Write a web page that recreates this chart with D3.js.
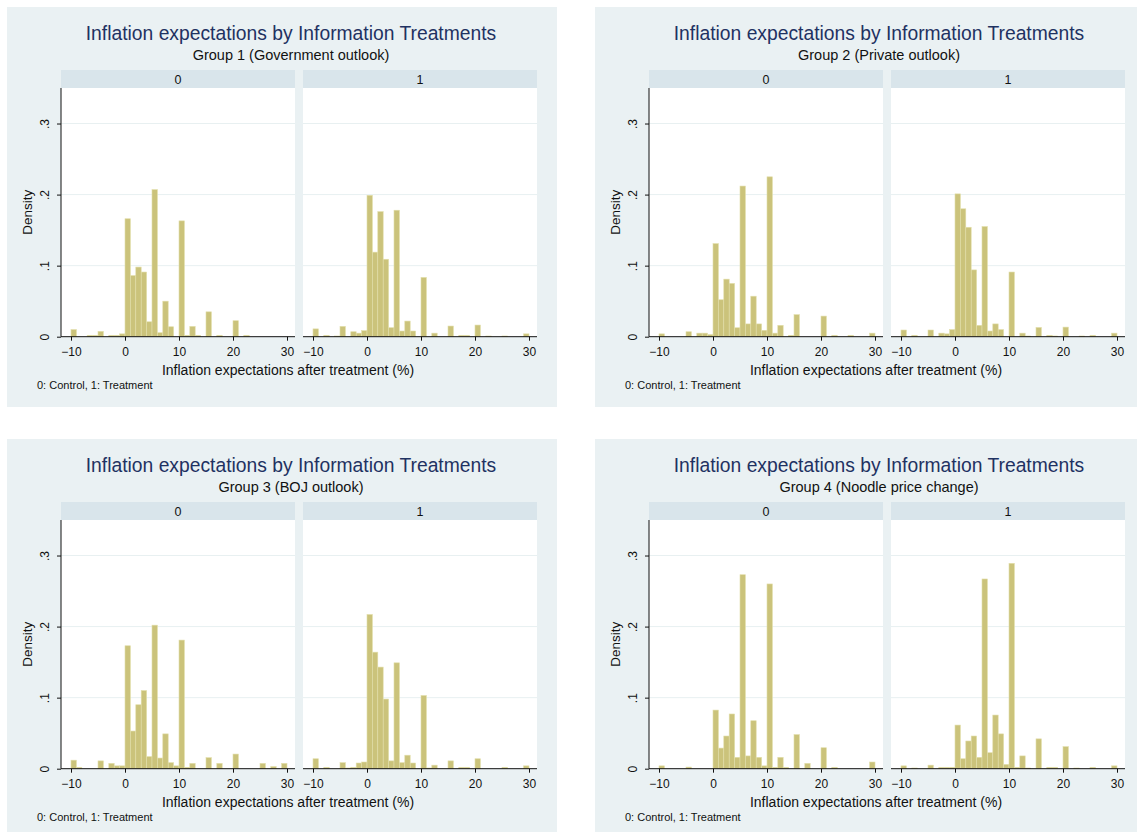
<!DOCTYPE html>
<html>
<head>
<meta charset="utf-8">
<script src="https://cdn.jsdelivr.net/npm/d3@7"></script>
<style>
  body { margin: 0; background: #fff; }
  svg { display: block; font-family: "Liberation Sans", Arial, sans-serif; }
</style>
</head>
<body>
<div id="chart"></div>
<script>
// Histogram bins: left edge of each 1-point bin
const binStarts = [-10, -9, -8, -7, -6, -5, -4, -3, -2, -1,
  0, 1, 2, 3, 4, 5, 6, 7, 8, 9,
  10, 11, 12, 13, 14, 15, 16, 17, 18, 19,
  20, 21, 22, 23, 24, 25, 26, 27, 28, 29];

const xTicks = [-10, 0, 10, 20, 30];
const yTicks = [0, 0.1, 0.2, 0.3];
const facetLabels = ["0", "1"];

const mainTitle = "Inflation expectations by Information Treatments";
const subtitles = [
  "Group 1 (Government outlook)",
  "Group 2 (Private outlook)",
  "Group 3 (BOJ outlook)",
  "Group 4 (Noodle price change)",
];
const xTitle = "Inflation expectations after treatment (%)";
const yTitle = "Density";
const note = "0: Control, 1: Treatment";

// Densities per bin (control = 0, treatment = 1)
const g1Control = [0.010, 0, 0, 0.002, 0.002, 0.0075, 0, 0.002, 0.002, 0.004,
  0.166, 0.086, 0.098, 0.091, 0.021, 0.207, 0.0056, 0.050, 0.014, 0,
  0.163, 0.002, 0.0145, 0.002, 0, 0.035, 0, 0.002, 0, 0,
  0.0225, 0, 0.002, 0, 0, 0, 0, 0, 0, 0];
const g1Treat = [0.011, 0, 0.002, 0, 0.001, 0.0145, 0, 0.007, 0.005, 0.0085,
  0.199, 0.119, 0.176, 0.109, 0.0127, 0.178, 0.008, 0.022, 0.008, 0,
  0.0834, 0, 0.005, 0, 0, 0.015, 0, 0.002, 0.002, 0,
  0.0164, 0, 0.001, 0, 0, 0.001, 0, 0, 0, 0.004];

const g2Control = [0.004, 0, 0, 0, 0, 0.007, 0, 0.005, 0.005, 0.003,
  0.131, 0.052, 0.081, 0.075, 0.0126, 0.212, 0.018, 0.057, 0.018, 0.009,
  0.225, 0.005, 0.016, 0, 0.002, 0.031, 0, 0, 0, 0,
  0.029, 0, 0.002, 0, 0, 0.002, 0, 0, 0, 0.005];
const g2Treat = [0.0094, 0, 0.002, 0, 0, 0.0094, 0, 0.005, 0.004, 0.010,
  0.201, 0.180, 0.154, 0.094, 0.016, 0.155, 0.008, 0.018, 0.010, 0,
  0.091, 0, 0.005, 0.001, 0, 0.013, 0, 0.002, 0.001, 0,
  0.0135, 0, 0, 0.001, 0, 0.002, 0, 0, 0, 0.005];

const g3Control = [0.012, 0.002, 0, 0, 0, 0.011, 0, 0.0075, 0.004, 0.004,
  0.173, 0.053, 0.090, 0.110, 0.017, 0.202, 0.015, 0.049, 0.0085, 0.004,
  0.181, 0.002, 0.0075, 0, 0, 0.0155, 0, 0.0075, 0, 0,
  0.0206, 0, 0, 0, 0, 0.0075, 0, 0.003, 0, 0.0075];
const g3Treat = [0.014, 0, 0.002, 0, 0, 0.0085, 0.001, 0.002, 0.008, 0.0094,
  0.217, 0.164, 0.143, 0.098, 0.011, 0.149, 0.0085, 0.019, 0.008, 0,
  0.103, 0.001, 0.005, 0, 0, 0.011, 0, 0.002, 0.002, 0,
  0.014, 0, 0, 0, 0, 0.002, 0, 0, 0, 0.004];

const g4Control = [0.004, 0, 0, 0, 0, 0.0023, 0, 0, 0, 0,
  0.0825, 0.029, 0.046, 0.077, 0.016, 0.273, 0.018, 0.0675, 0.016, 0.004,
  0.260, 0.002, 0.016, 0.002, 0, 0.048, 0, 0.0075, 0, 0,
  0.0295, 0, 0.002, 0, 0, 0, 0, 0, 0, 0.0094];
const g4Treat = [0.004, 0, 0.001, 0, 0, 0.005, 0, 0.002, 0.002, 0.002,
  0.0614, 0.014, 0.039, 0.046, 0.016, 0.267, 0.0225, 0.0755, 0.049, 0.006,
  0.289, 0.002, 0.018, 0.001, 0, 0.042, 0, 0.002, 0.002, 0,
  0.031, 0, 0.001, 0, 0, 0.002, 0, 0, 0, 0.004];

const groups = [
  [g1Control, g1Treat],
  [g2Control, g2Treat],
  [g3Control, g3Treat],
  [g4Control, g4Treat],
];

// Layout
const W = 1137, H = 832;
const panelOrigins = [[7, 7], [595, 7], [7, 439], [595, 439]];
const panelW = 550, panelH = 400;
const facetLeft = [54, 296], facetW = 234;
const stripTop = 63, plotTop = 81, plotBottom = 329.7;

const svg = d3.select("#chart").append("svg")
  .attr("width", W)
  .attr("height", H);

svg.append("rect").attr("width", W).attr("height", H).attr("fill", "#fff");

const y = d3.scaleLinear().domain([0, 0.35]).range([plotBottom, plotTop]);

groups.forEach((series, gi) => {
  const [ox, oy] = panelOrigins[gi];
  const g = svg.append("g").attr("transform", "translate(" + ox + "," + oy + ")");

  // Graph region background
  g.append("rect")
    .attr("width", panelW)
    .attr("height", panelH)
    .attr("fill", "#eaf1f3");

  g.append("text")
    .attr("x", 284)
    .attr("y", 33)
    .attr("text-anchor", "middle")
    .attr("font-size", 19.3)
    .attr("fill", "#1f3262")
    .text(mainTitle);

  g.append("text")
    .attr("x", 284)
    .attr("y", 52.5)
    .attr("text-anchor", "middle")
    .attr("font-size", 14.5)
    .attr("fill", "#111")
    .text(subtitles[gi]);

  series.forEach((vals, fi) => {
    const left = facetLeft[fi];
    const x = d3.scaleLinear().domain([-10, 30]).range([left + 10, left + 226]);

    // Strip
    g.append("rect")
      .attr("x", left)
      .attr("y", stripTop)
      .attr("width", facetW)
      .attr("height", plotTop - stripTop)
      .attr("fill", "#d9e5eb");
    g.append("text")
      .attr("x", left + facetW / 2)
      .attr("y", 76.5)
      .attr("text-anchor", "middle")
      .attr("font-size", 12.5)
      .attr("fill", "#111")
      .text(facetLabels[fi]);

    // Plot area
    g.append("rect")
      .attr("x", left)
      .attr("y", plotTop)
      .attr("width", facetW)
      .attr("height", plotBottom - plotTop)
      .attr("fill", "#fff");

    // Gridlines
    g.selectAll(null)
      .data(yTicks.slice(1))
      .enter()
      .append("line")
      .attr("x1", left)
      .attr("x2", left + facetW)
      .attr("y1", (d) => y(d))
      .attr("y2", (d) => y(d))
      .attr("stroke", "#e8f0f1")
      .attr("stroke-width", 1);

    // Bars
    const bins = binStarts.map((b, i) => ({ x0: b, x1: b + 1, v: vals[i] }))
      .filter((d) => d.v > 0);
    g.append("g")
      .selectAll("rect")
      .data(bins)
      .enter()
      .append("rect")
      .attr("x", (d) => x(d.x0))
      .attr("width", (d) => x(d.x1) - x(d.x0))
      .attr("y", (d) => y(d.v))
      .attr("height", (d) => y(0) - y(d.v))
      .attr("fill", "#cbc37b")
      .attr("stroke", "#e2deaa")
      .attr("stroke-width", 0.6);

    // X axis
    const xAxis = g.append("g")
      .attr("transform", "translate(0," + plotBottom + ")")
      .call(d3.axisBottom(x).tickValues(xTicks).tickSize(4).tickPadding(7).tickFormat(d3.format("d")));
    xAxis.select(".domain").remove();
    xAxis.selectAll("text").attr("font-size", 12).attr("fill", "#111").attr("font-family", null);
    xAxis.selectAll(".tick line").attr("stroke", "#111");
    g.append("line")
      .attr("x1", left)
      .attr("x2", left + facetW)
      .attr("y1", plotBottom)
      .attr("y2", plotBottom)
      .attr("stroke", "#111")
      .attr("stroke-width", 1);

    // Y axis only on the first facet
    if (fi === 0) {
      const yAxis = g.append("g")
        .attr("transform", "translate(" + left + ",0)")
        .call(d3.axisLeft(y).tickValues(yTicks).tickSize(4).tickSizeOuter(0)
          .tickFormat((d) => (d === 0 ? "0" : d3.format(".1f")(d).replace(/^0/, ""))));
      yAxis.select(".domain").remove();
      yAxis.selectAll(".tick line").attr("stroke", "#111");
      yAxis.selectAll("text")
        .attr("font-size", 12)
        .attr("fill", "#111")
        .attr("font-family", null)
        .attr("x", null)
        .attr("dy", null)
        .attr("text-anchor", "middle")
        .attr("transform", "translate(-12,0) rotate(-90)");
      g.append("line")
        .attr("x1", left)
        .attr("x2", left)
        .attr("y1", plotTop)
        .attr("y2", plotBottom)
        .attr("stroke", "#111")
        .attr("stroke-width", 1);
    }
  });

  // Axis titles
  g.append("text")
    .attr("transform", "translate(25," + (plotTop + plotBottom) / 2 + ") rotate(-90)")
    .attr("text-anchor", "middle")
    .attr("font-size", 13.5)
    .attr("fill", "#111")
    .text(yTitle);

  g.append("text")
    .attr("x", 281)
    .attr("y", 368)
    .attr("text-anchor", "middle")
    .attr("font-size", 14)
    .attr("fill", "#111")
    .text(xTitle);

  g.append("text")
    .attr("x", 30)
    .attr("y", 381.5)
    .attr("font-size", 11)
    .attr("fill", "#111")
    .text(note);
});
</script>
</body>
</html>
